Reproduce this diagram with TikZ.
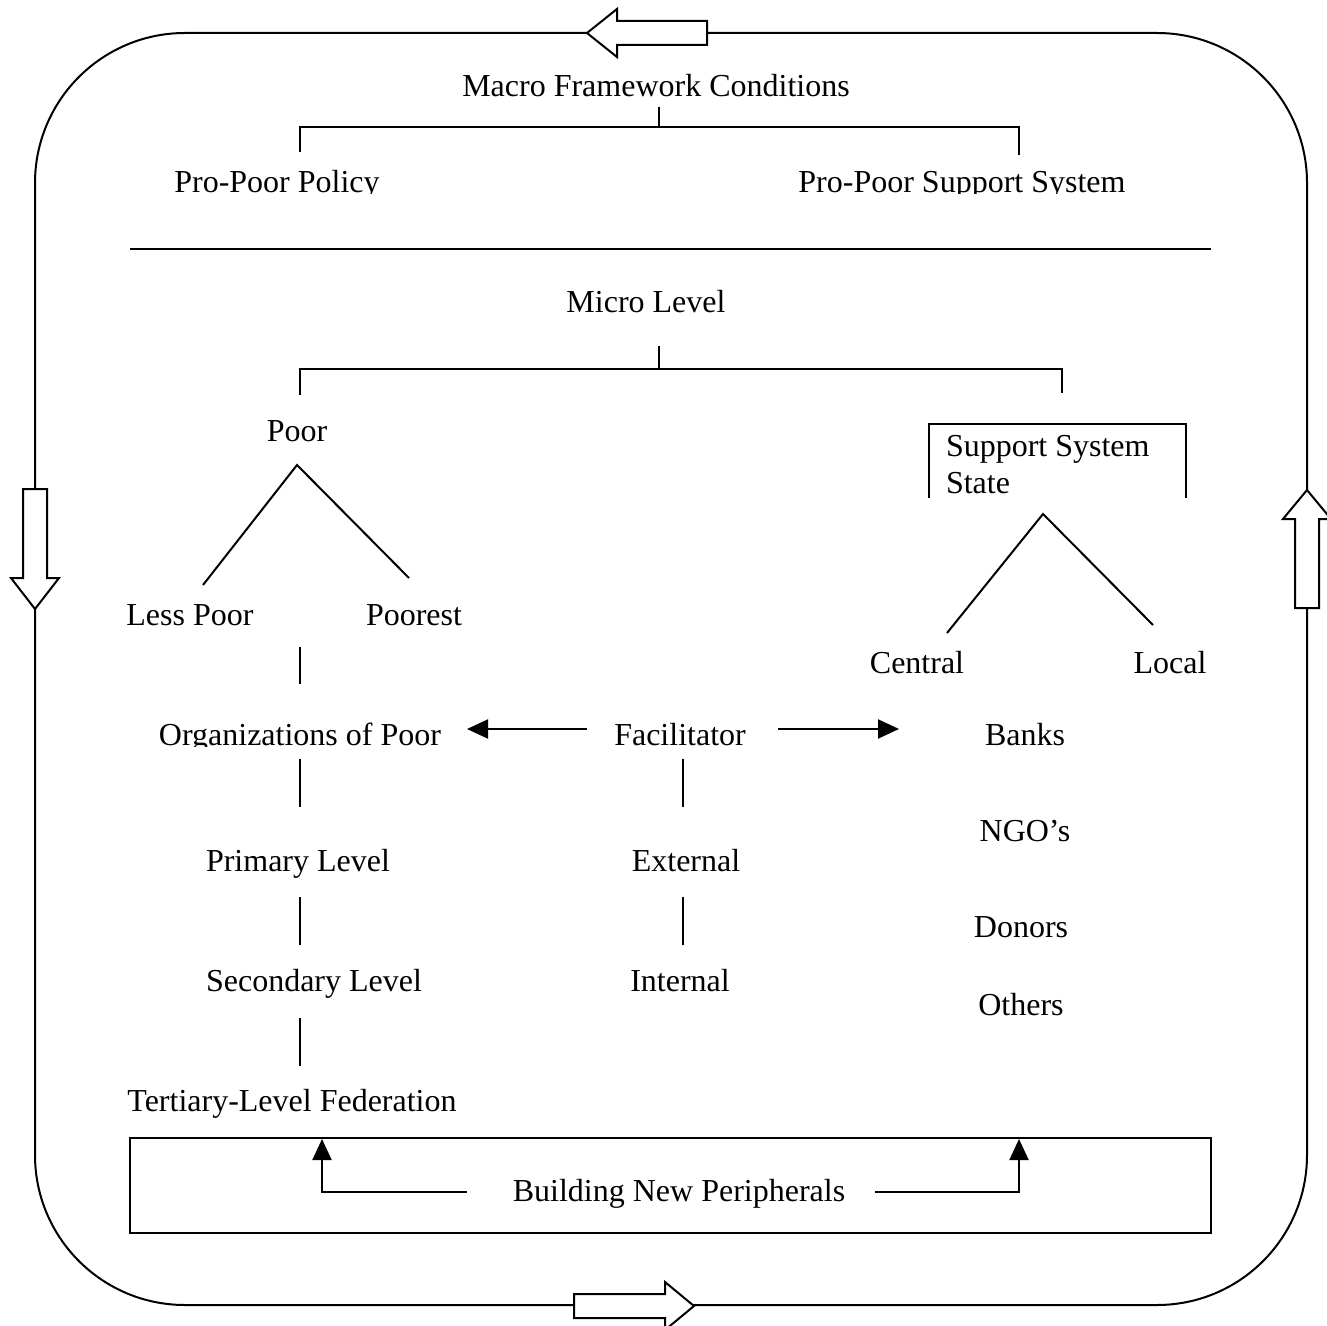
\documentclass[tikz,border=0pt]{standalone}
\usepackage{fontspec}
\setmainfont{Liberation Serif}
\usetikzlibrary{arrows.meta}
\begin{document}
\begin{tikzpicture}[x=0.5pt,y=-0.5pt,line width=1pt,
  lbl/.style={anchor=base,inner sep=0pt,font=\fontsize{16}{19}\selectfont},
  lblw/.style={anchor=base west,inner sep=0pt,font=\fontsize{16}{19}\selectfont},
  conn/.style={draw,line width=1pt},
  arr/.style={conn,-{Triangle[length=10.5pt,width=9.5pt]}},
  hollow/.style={draw,fill=white,line width=1pt,line join=miter}]
\useasboundingbox (0,0) rectangle (1327,1326);

% outer cycle
\draw[rounded corners=75pt] (35,33) rectangle (1307,1305);
\draw[hollow] (587,33) -- (617,9) -- (617,21) -- (707,21) -- (707,45) -- (617,45) -- (617,57) -- cycle;
\draw[hollow] (35,609) -- (11,578) -- (23,578) -- (23,489) -- (47,489) -- (47,578) -- (59,578) -- cycle;
\draw[hollow] (1307,490) -- (1283,519) -- (1295,519) -- (1295,608) -- (1319,608) -- (1319,519) -- (1331,519) -- cycle;
\draw[hollow] (694,1306) -- (665,1282) -- (665,1294) -- (574,1294) -- (574,1318) -- (665,1318) -- (665,1330) -- cycle;

% macro level
\node[lbl] (macro) at (656,97) {Macro Framework Conditions};
\begin{scope}
\clip (0,0) rectangle (1327,194);
\node[lbl] (ppp) at (277,193) {Pro-Poor Policy};
\node[lbl] (ppss) at (962,193) {Pro-Poor Support System};
\end{scope}
\coordinate (m0) at (659,107);
\coordinate (m1) at (659,127);
\coordinate (mL) at (300,127);
\coordinate (mL2) at (300,152);
\coordinate (mR) at (1019,127);
\coordinate (mR2) at (1019,155);
\draw[conn] (m0) -- (m1);
\draw[conn] (mL2) -- (mL) -- (mR) -- (mR2);

% separator
\coordinate (s1) at (130,249);
\coordinate (s2) at (1211,249);
\draw[conn] (s1) -- (s2);

% micro level
\node[lbl] (micro) at (646,313) {Micro Level};
\coordinate (u0) at (659,346);
\coordinate (u1) at (659,369);
\coordinate (uL) at (300,369);
\coordinate (uL2) at (300,395);
\coordinate (uR) at (1062,369);
\coordinate (uR2) at (1062,393);
\draw[conn] (u0) -- (u1);
\draw[conn] (uL2) -- (uL) -- (uR) -- (uR2);

% poor branch
\node[lbl] (poor) at (297,441) {Poor};
\coordinate (pt) at (297,465);
\coordinate (pl) at (203,585);
\coordinate (pr) at (409,578);
\draw[conn] (pl) -- (pt) -- (pr);
\node[lbl] (lesspoor) at (190,625) {Less Poor};
\node[lbl] (poorest) at (414,625) {Poorest};
\coordinate (o1) at (300,647);
\coordinate (o2) at (300,684);
\draw[conn] (o1) -- (o2);
\begin{scope}
\clip (0,0) rectangle (1327,746);
\node[lbl] (orgs) at (300,745) {Organizations of Poor};
\end{scope}
\coordinate (o3) at (300,759);
\coordinate (o4) at (300,807);
\draw[conn] (o3) -- (o4);
\node[lbl] (primary) at (298,871) {Primary Level};
\coordinate (o5) at (300,897);
\coordinate (o6) at (300,945);
\draw[conn] (o5) -- (o6);
\node[lbl] (secondary) at (314,991) {Secondary Level};
\coordinate (o7) at (300,1018);
\coordinate (o8) at (300,1066);
\draw[conn] (o7) -- (o8);
\node[lbl] (tertiary) at (292,1111) {Tertiary-Level Federation};

% facilitator
\node[lbl] (fac) at (680,745) {Facilitator};
\coordinate (fa1) at (587,729);
\coordinate (fa2) at (467,729);
\coordinate (fb1) at (778,729);
\coordinate (fb2) at (899,729);
\draw[arr] (fa1) -- (fa2);
\draw[arr] (fb1) -- (fb2);
\coordinate (f1) at (683,759);
\coordinate (f2) at (683,807);
\draw[conn] (f1) -- (f2);
\node[lbl] (ext) at (686,871) {External};
\coordinate (f3) at (683,897);
\coordinate (f4) at (683,945);
\draw[conn] (f3) -- (f4);
\node[lbl] (int) at (680,991) {Internal};

% support system
\coordinate (b1) at (929,498);
\coordinate (b2) at (929,424);
\coordinate (b3) at (1186,424);
\coordinate (b4) at (1186,498);
\draw[conn,line join=miter] (b1) -- (b2) -- (b3) -- (b4);
\node[lblw] (sss) at (945,456) {Support System};
\node[lblw] (state) at (945,493) {State};
\coordinate (st) at (1043,514);
\coordinate (sl) at (947,633);
\coordinate (sr) at (1153,625);
\draw[conn] (sl) -- (st) -- (sr);
\node[lbl] (central) at (917,673) {Central};
\node[lbl] (local) at (1170,673) {Local};
\node[lbl] (banks) at (1025,745) {Banks};
\node[lbl] (ngo) at (1025,841) {NGO’s};
\node[lbl] (donors) at (1021,937) {Donors};
\node[lbl] (others) at (1021,1015) {Others};

% building new peripherals
\node[draw,line width=1pt,minimum width=540.5pt,minimum height=47.5pt,inner sep=0pt] (bbox) at (670.5,1185.5) {};
\node[lbl] (bnp) at (679,1201) {Building New Peripherals};
\coordinate (n1) at (467,1192);
\coordinate (n2) at (322,1192);
\coordinate (n3) at (322,1139);
\coordinate (n4) at (875,1192);
\coordinate (n5) at (1019,1192);
\coordinate (n6) at (1019,1139);
\draw[arr] (n1) -- (n2) -- (n3);
\draw[arr] (n4) -- (n5) -- (n6);
\end{tikzpicture}
\end{document}
